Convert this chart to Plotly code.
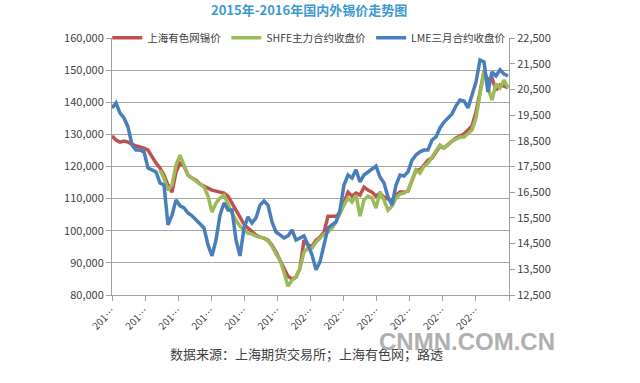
import plotly.graph_objects as go

smm_price = [129470, 128230, 127600, 127920, 127600, 126980, 126360, 126050, 125740, 125110,
             122930, 121060, 119500, 117320, 114210, 112030, 118260, 121060, 120130, 117320,
             116390, 115770, 114520, 113900, 113280, 112650, 112340, 112030, 111720, 110780,
             108600, 106420, 103930, 102060, 100820, 99570, 98630, 98010, 97700, 97080,
             95520, 93340, 90850, 88360, 85860, 84930, 85550, 88360, 97080, 95520,
             95210, 97080, 98010, 99570, 104550, 104550, 104550, 105490, 108600, 112030,
             110780, 111720, 111090, 113590, 112650, 112030, 110780, 111720, 110470, 109850,
             109540, 111090, 112030, 112030, 112340, 115770, 118880, 118880, 120440, 122000,
             122620, 124490, 126360, 125740, 126980, 127920, 128850, 129470, 130100, 131340,
             132590, 136950, 143800, 149410, 146920, 147540, 143800, 145360, 145050, 144430]

shfe_price = [118880, 116390, 112650, 114210, 120440, 123550, 120440, 117320, 116390, 115460,
              114520, 113590, 110780, 105800, 108600, 110160, 111090, 107980, 105490, 103310,
              101440, 100190, 99260, 98950, 98320, 98010, 97700, 96770, 95210, 92720,
              90850, 87110, 82750, 84620, 85550, 88360, 93340, 94590, 94590, 96450,
              97700, 98950, 99570, 100820, 102680, 105490, 107980, 110160, 108910, 111090,
              104550, 109540, 110780, 110160, 107050, 112030, 109540, 106420, 107670, 110160,
              111410, 111720, 112650, 115770, 118880, 117950, 120130, 121060, 122930, 124490,
              126670, 125740, 126980, 127920, 128540, 129160, 129160, 130410, 131340, 135080,
              142240, 150030, 144430, 140690, 145670, 144430, 146920, 144430]

lme_price = [19780, 19970, 19580, 19390, 19040, 18340, 18140, 18140, 18070, 17440,
             17370, 17290, 16860, 16780, 15230, 15610, 16200, 15970, 15890, 15690,
             15580, 15420, 15230, 15110, 14450, 14020, 14640, 15610, 16080, 15810,
             15810, 14640, 14020, 15110, 15540, 15300, 15500, 16000, 16160, 16000,
             15340, 14950, 14840, 14720, 14800, 15030, 14640, 14720, 14800, 14450,
             14060, 13480, 13790, 14450, 15110, 15230, 15340, 15810, 16780, 17170,
             17050, 17370, 16900, 17170, 17290, 17440, 17520, 17090, 16860, 16310,
             16000, 16780, 17170, 17130, 17290, 17750, 17950, 18070, 18140, 18140,
             18530, 18650, 19000, 19230, 19390, 19540, 19860, 20090, 20050, 19780,
             20280, 20790, 21640, 21570, 20400, 21180, 21020, 21260, 21100, 21020]

x_tick_labels = ["201…"] * 6 + ["202…"] * 6
left_ticks = [80000, 90000, 100000, 110000, 120000, 130000, 140000, 150000, 160000]
right_ticks = [12500, 13500, 14500, 15500, 16500, 17500, 18500, 19500, 20500, 21500, 22500]

n = len(smm_price)
x_all = list(range(n))
x_shfe = x_all[n - len(shfe_price):]
x_end = n - 0.75

FONT = "Noto Sans CJK SC, Liberation Sans, sans-serif"
RED = "#C0504D"
GREEN = "#9BBB59"
BLUE = "#4A7EBB"

fig = go.Figure()
fig.add_trace(go.Scatter(x=x_all, y=smm_price, name="上海有色网锡价", mode="lines",
                         line=dict(color=RED, width=3.5)))
fig.add_trace(go.Scatter(x=x_shfe, y=shfe_price, name="SHFE主力合约收盘价", mode="lines",
                         line=dict(color=GREEN, width=3.5)))
fig.add_trace(go.Scatter(x=x_all, y=lme_price, name="LME三月合约收盘价", mode="lines",
                         line=dict(color=BLUE, width=3.5), yaxis="y2"))

tickvals = [k * x_end / 12 for k in range(12)]

fig.update_layout(
    width=640, height=383,
    margin=dict(l=112, r=131, t=38, b=88),
    paper_bgcolor="white", plot_bgcolor="white",
    font=dict(family=FONT, size=11, color="#404040"),
    showlegend=True,
    title=dict(text="<b>2015年-2016年国内外锡价走势图</b>", x=0.483, xanchor="center",
               xref="container", yref="container", y=0.973, yanchor="middle",
               font=dict(size=13, color="#3D9AD1", family=FONT)),
    legend=dict(orientation="h", x=-0.012, xanchor="left", y=1.001, yanchor="middle",
                bgcolor="rgba(0,0,0,0)", font=dict(size=10.5, color="#404040", family=FONT),
                itemwidth=30, tracegroupgap=0),
    xaxis=dict(range=[0, x_end], tickmode="array", tickvals=tickvals + [x_end],
               ticktext=x_tick_labels + [""], tickangle=-45, ticks="outside", ticklen=5,
               tickcolor="#A0A0A0", showline=True, linecolor="#A0A0A0", linewidth=1,
               showgrid=False, zeroline=False, tickfont=dict(size=10, color="#404040")),
    yaxis=dict(range=[80000, 160000], tickmode="array", tickvals=left_ticks,
               ticktext=[f"{v:,}" for v in left_ticks], showgrid=True, gridcolor="#A6A6A6",
               gridwidth=1, showline=True, linecolor="#A0A0A0", ticks="outside", ticklen=5,
               tickcolor="#A0A0A0", zeroline=False, tickfont=dict(size=11, color="#404040")),
    yaxis2=dict(range=[12500, 22500], overlaying="y", side="right", tickmode="array",
                tickvals=right_ticks, ticktext=[f"{v:,}" for v in right_ticks],
                showgrid=False, showline=True, linecolor="#A0A0A0", ticks="outside",
                ticklen=5, tickcolor="#A0A0A0", zeroline=False,
                tickfont=dict(size=11, color="#404040")),
)

fig.add_annotation(text="数据来源：上海期货交易所；上海有色网；路透", xref="paper", yref="paper",
                   x=0.491, y=-0.226, xanchor="center", yanchor="middle", showarrow=False,
                   font=dict(size=13, color="#404040", family=FONT))
fig.add_annotation(text="<b>CNMN.COM.CN</b>", xref="paper", yref="paper",
                   x=1.12, y=-0.182, xanchor="right", yanchor="middle", showarrow=False,
                   font=dict(size=24, color="#B0B0B0", family="Liberation Sans, sans-serif"))

fig.write_html("out.html", config={"displayModeBar": False},
               post_script="document.body.style.margin='0';document.body.style.padding='0';")
